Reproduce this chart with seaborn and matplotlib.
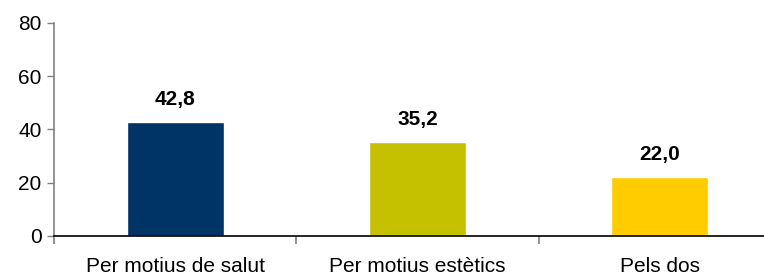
import matplotlib
matplotlib.use("Agg")
import matplotlib.pyplot as plt
import seaborn as sns
import pandas as pd

categories = ["Per motius de salut", "Per motius estètics", "Pels dos"]
values = [42.8, 35.2, 22.0]
colors = ["#003366", "#C5C000", "#FFCC00"]
yticks = [0, 20, 40, 60, 80]

sns.set_style("white")
plt.rcParams["font.family"] = ["Liberation Sans", "DejaVu Sans"]
plt.rcParams["text.color"] = "black"
plt.rcParams["xtick.color"] = "black"
plt.rcParams["ytick.color"] = "black"

df = pd.DataFrame({"cat": categories, "val": values})

fig = plt.figure(figsize=(7.64, 2.76), dpi=100)
# the plot area runs slightly past the right edge of the picture
ax = fig.add_axes([0.0707, 0.145, 0.9516, 0.772])
sns.barplot(data=df, x="cat", y="val", hue="cat", palette=colors,
            width=0.40, legend=False, ax=ax, saturation=1)

ax.set_xlim(-0.5, 2.5)
ax.set_ylim(0, 80)
ax.set_yticks(yticks)
ax.set_yticklabels([str(t) for t in yticks], fontsize=15)
ax.set_xlabel(""); ax.set_ylabel("")
ax.tick_params(axis="y", length=5, width=1, color="#808080", pad=4, left=True)
ax.tick_params(axis="x", which="major", length=0, labelsize=15, pad=15)
ax.set_xticks([-0.5, 0.5, 1.5], minor=True)
ax.tick_params(axis="x", which="minor", length=6, width=1.2, color="#808080", bottom=True)

for s in ["top", "right"]:
    ax.spines[s].set_visible(False)
ax.spines["left"].set_color("#808080")
ax.spines["left"].set_linewidth(1.2)
ax.spines["bottom"].set_color("black")
ax.spines["bottom"].set_linewidth(1.2)

for i, v in enumerate(values):
    ax.text(i, v + 5, f"{v:.1f}".replace(".", ","), ha="center", va="bottom",
            fontsize=15, fontweight="bold")

fig.savefig("out.png", dpi=100)
